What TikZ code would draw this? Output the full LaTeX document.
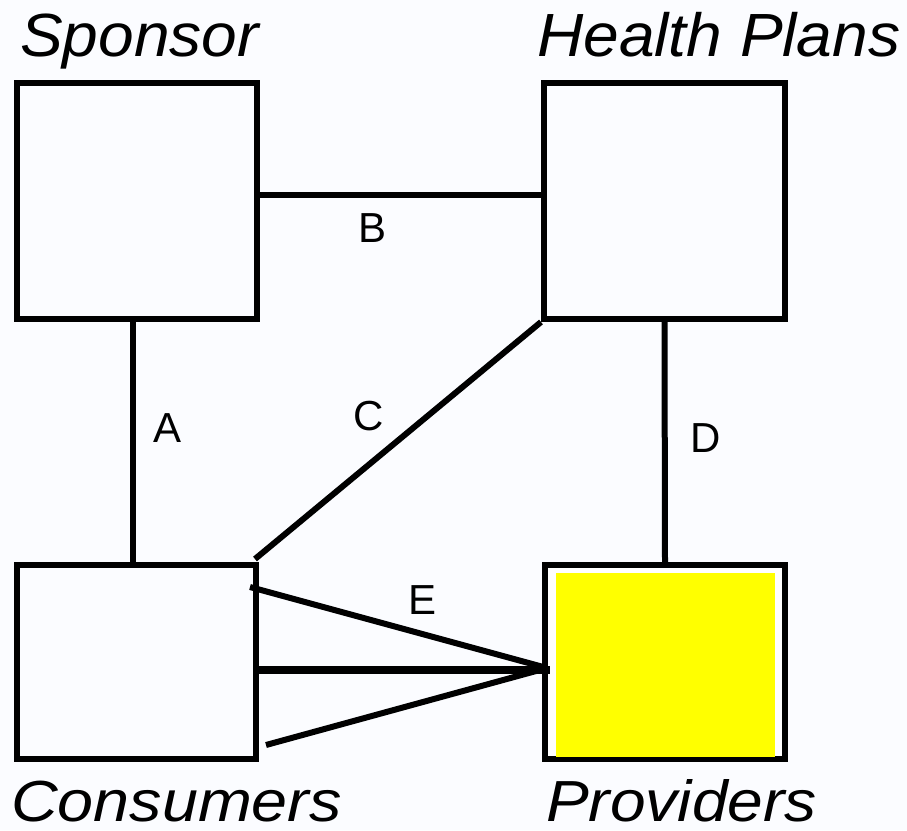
\documentclass[tikz,border=0pt]{standalone}
\usepackage{fontspec}
\setmainfont{Liberation Sans}
\usepackage{graphicx}
\definecolor{bgcol}{RGB}{251,252,255}
\definecolor{provfill}{RGB}{255,255,0}
\begin{document}
\begin{tikzpicture}[x=1pt,y=-1pt,
  box/.style={draw=black, line width=6pt, inner sep=0pt},
  conn/.style={line width=6pt, line cap=butt},
  lbl/.style={font=\fontsize{42}{48}\selectfont, inner sep=0pt},
  ttl/.style={font=\fontsize{61}{70}\selectfont\itshape, inner sep=0pt, anchor=base west}]
\fill[bgcol] (0,0) rectangle (907,830);
\useasboundingbox (0,0) rectangle (907,830);
% boxes
\node[box, minimum width=240pt, minimum height=236pt] (sponsor) at (137,201) {};
\node[box, minimum width=241pt, minimum height=236pt] (health) at (664.5,201) {};
\node[box, minimum width=239pt, minimum height=194pt] (consumers) at (136.5,662) {};
\node[box, fill=white, minimum width=240pt, minimum height=194pt] (providers) at (665,662) {};
\fill[provfill] (556,573) rectangle (775,757);
% titles
\node[ttl] (tsponsor) at (20,56) {\scalebox{1.05}[1]{Sponsor}};
\node[ttl] (thealth) at (537,56) {\scalebox{1.05}[1]{Health Plans}};
\node[ttl] (tconsumers) at (11,821) {\scalebox{1.06}[0.95]{Consumers}};
\node[ttl] (tproviders) at (546,821) {\scalebox{1.05}[0.95]{Providers}};
% connectors
\draw[conn] ([xshift=-4pt]sponsor.south) -- ([xshift=-4pt]sponsor.south |- consumers.north);
\draw[conn] ([yshift=6pt]sponsor.east) -- ([yshift=6pt]sponsor.east -| health.west);
\draw[conn] (health.south west) -- ([shift={(-4pt,3pt)}]consumers.north east);
\draw[conn] (health.south) -- (providers.north);
\coordinate (ehub) at (547,668);
\coordinate (e1) at (250,587);
\coordinate (e3) at (266,745);
\draw[conn] (e1) -- (ehub);
\draw[conn, line width=7.5pt] (consumers.east |- ehub) ++(0,2) -- ++(291,0);
\draw[conn] (e3) -- (ehub);
% labels
\node[lbl] (la) at (168,428) {A};
\node[lbl] (lb) at (373,228) {B};
\node[lbl] (lc) at (369,416) {C};
\node[lbl] (ld) at (706,438) {D};
\node[lbl] (le) at (423,600) {E};
\end{tikzpicture}
\end{document}
